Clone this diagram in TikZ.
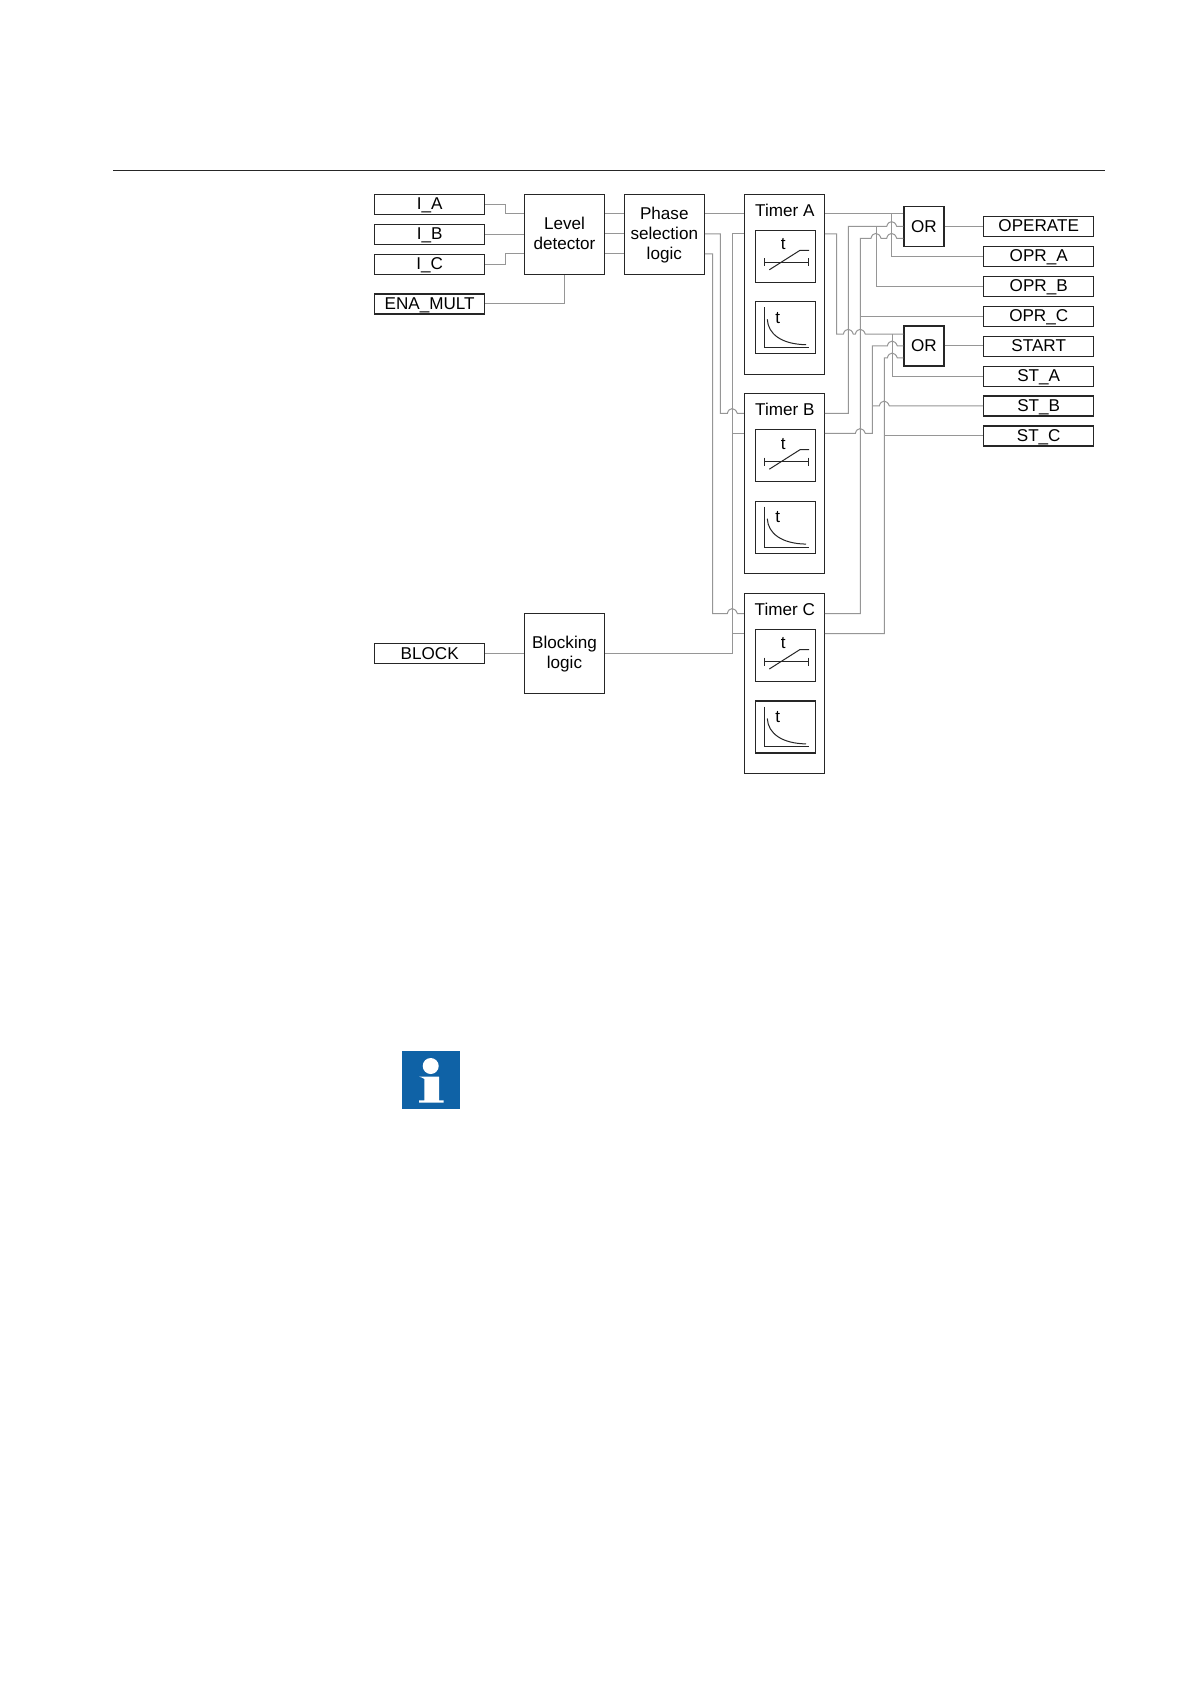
\documentclass[tikz,border=0pt]{standalone}
\usepackage{fontspec}
\setmainfont{Liberation Sans}
\definecolor{wire}{HTML}{969696}
\definecolor{edge}{HTML}{262626}
\definecolor{infoblue}{HTML}{0F62A6}
% a small bridge in a left-to-right wire, at x=#1, y=#2
\newcommand{\hump}[2]{-- ({#1-5},#2) .. controls ({#1-3.5},{#2-6.5}) and ({#1+3},{#2-6.5}) .. ({#1+5},#2)}
\tikzset{
  lab/.style={font=\fontsize{8.55}{10}\selectfont,text=black,inner sep=0pt,align=center},
  box/.style={draw=edge,line width=0.55pt,fill=white,inner sep=0pt,lab},
  iobox/.style={box,minimum width=55pt,minimum height=10pt,text height=6pt,text depth=0.4pt},
  procbox/.style={box,minimum width=40pt,minimum height=40pt},
  orbox/.style={box,minimum width=20pt,minimum height=20pt},
  timerbox/.style={draw=edge,line width=0.55pt,fill=white,minimum width=40pt,minimum height=90pt,inner sep=0pt},
  iconbox/.style={draw=edge,line width=0.55pt,fill=white,minimum width=30.2pt,minimum height=26pt,inner sep=0pt},
  wireline/.style={draw=wire,line width=0.5pt},
  icon/.style={draw=edge,line width=0.5pt},
  iconaxis/.style={draw=edge,line width=0.5pt}
}
% timer block: #1 name, #2 title, #3 top y
\newcommand{\timerblock}[3]{
  \node[timerbox] (#1) at (784.3,{#3+90}) {};
  \node[lab] (#1title) at (784.8,{#3+16}) {#2};
  \node[iconbox] (#1def) at (785.5,{#3+62}) {};
  \node[iconbox] (#1idmt) at (785.5,{#3+133.5}) {};
  \node[lab] (#1t1) at (783.3,{#3+50}) {t};
  \node[lab] (#1t2) at (777.7,{#3+123.5}) {t};
  \draw[iconaxis] (764.3,{#3+68}) -- (808.7,{#3+68});
  \draw[iconaxis] (764.3,{#3+64}) -- (764.3,{#3+72});
  \draw[iconaxis] (808.7,{#3+64}) -- (808.7,{#3+72});
  \draw[icon] (769.3,{#3+75.5}) -- (800,{#3+56}) -- (809,{#3+56});
  \draw[iconaxis] (764,{#3+113}) -- (764,{#3+153.4}) -- (808.7,{#3+153.4});
  \draw[icon] (767.3,{#3+125}) .. controls (768,{#3+140}) and (782,{#3+150}) .. (806,{#3+150.4});
}
\begin{document}
\begin{tikzpicture}[x=0.5pt,y=-0.5pt]
\useasboundingbox (0,0) rectangle (1191,1684);
\fill[white] (0,0) rectangle (1191,1684);
\coordinate (ruleL) at (113,170);
\coordinate (ruleR) at (1105,170);
\draw[edge,line width=0.4pt] (ruleL) -- (ruleR);

% inputs
\node[iobox] (IA) at (429.7,204.3) {I\_A};
\node[iobox] (IB) at (429.7,234.3) {I\_B};
\node[iobox] (IC) at (429.7,264.3) {I\_C};
\node[iobox] (ENA) at (429.7,304) {ENA\_MULT};
\node[iobox] (BLOCK) at (429.7,653.5) {BLOCK};

% processing
\node[procbox] (LD) at (564.5,234.3) {};
\node[lab] (LDtext) at (564.5,233.3) {Level\\detector};
\node[procbox] (PS) at (664.3,234.3) {};
\node[lab] (PStext) at (664.3,235.3) {Phase\\selection\\logic};
\node[procbox] (BL) at (564.5,653.5) {};
\node[lab] (BLtext) at (564.5,654.2) {Blocking\\logic};

% timers
\timerblock{TA}{Timer A}{194.3}
\timerblock{TB}{Timer B}{393.7}
\timerblock{TC}{Timer C}{593.5}

% OR gates
\node[orbox] (ORa) at (924,226.2) {OR};
\node[orbox] (ORb) at (924,346) {OR};

% outputs
\node[iobox] (OPERATE) at (1038.7,226.3) {OPERATE};
\node[iobox] (OPRA) at (1038.7,256.3) {OPR\_A};
\node[iobox] (OPRB) at (1038.7,286.3) {OPR\_B};
\node[iobox] (OPRC) at (1038.7,316.3) {OPR\_C};
\node[iobox] (START) at (1038.7,346.3) {START};
\node[iobox] (STA) at (1038.7,376.3) {ST\_A};
\node[iobox] (STB) at (1038.7,406) {ST\_B};
\node[iobox] (STC) at (1038.7,436) {ST\_C};

% input wires
\draw[wireline] (IA.east) -- (505.3,204.3) -- (505.3,214) -- (LD.west |- 0,214);
\draw[wireline] (IB.east) -- (LD.west |- IB.east);
\draw[wireline] (IC.east) -- (505,264.3) -- (505,254) -- (LD.west |- 0,254);
\draw[wireline] (ENA.east) -| (LD.south);
\draw[wireline] (BLOCK.east) -- (BL.west);

% level detector to phase selection
\draw[wireline] (LD.east |- 0,214) -- (PS.west |- 0,214);
\draw[wireline] (LD.east |- 0,234) -- (PS.west |- 0,234);
\draw[wireline] (LD.east |- 0,254) -- (PS.west |- 0,254);

% phase selection to timers
\draw[wireline] (PS.east |- 0,214) -- (TA.west |- 0,214);
\draw[wireline] (PS.east |- 0,234) -- (720.3,234) -- (720.3,413.5) \hump{732.3}{413.5} -- (TB.west |- 0,413.5);
\draw[wireline] (PS.east |- 0,254) -- (712.7,254) -- (712.7,613.5) \hump{732.3}{613.5} -- (TC.west |- 0,613.5);

% blocking to timers
\draw[wireline] (BL.east) -- (732.3,653.5) -- (732.3,234) -- (TA.west |- 0,234);
\draw[wireline] (732.3,433.5) -- (TB.west |- 0,433.5);
\draw[wireline] (732.3,633.5) -- (TC.west |- 0,633.5);

% timer A
\draw[wireline] (TA.east |- 0,214) -- (ORa.west |- 0,214);
\draw[wireline] (891.7,214) -- (891.7,256.3) -- (OPRA.west);
\draw[wireline] (TA.east |- 0,234) -- (836.7,234) -- (836.7,334.2) \hump{848.3}{334.2} \hump{860.3}{334.2} -- (ORb.west |- 0,334.2);
\draw[wireline] (892.3,334.2) -- (892.3,376.3) -- (STA.west);

% timer B
\draw[wireline] (TB.east |- 0,413.5) -- (848.3,413.5) -- (848.3,226.5) \hump{891.7}{226.5} -- (ORa.west |- 0,226.5);
\draw[wireline] (876,226.5) -- (876,286.3) -- (OPRB.west);
\draw[wireline] (TB.east |- 0,433.5) \hump{860.3}{433.5} -- (872.3,433.5) -- (872.3,346) \hump{892.3}{346} -- (ORb.west |- 0,346);
\draw[wireline] (872.3,406) \hump{884.3}{406} -- (STB.west);

% timer C
\draw[wireline] (TC.east |- 0,613.5) -- (860.3,613.5) -- (860.3,238.3) \hump{876}{238.3} \hump{891.7}{238.3} -- (ORa.west |- 0,238.3);
\draw[wireline] (860.3,316.3) -- (OPRC.west);
\draw[wireline] (TC.east |- 0,633.5) -- (884.3,633.5) -- (884.3,358) \hump{892.3}{358} -- (ORb.west |- 0,358);
\draw[wireline] (884.3,436) -- (STC.west);

% OR outputs
\draw[wireline] (ORa.east) -- (OPERATE.west |- ORa.east);
\draw[wireline] (ORb.east) -- (START.west |- ORb.east);

% information icon
\fill[infoblue] (402.3,1051.3) rectangle (460,1109);
\fill[white] (430.7,1066) circle[radius=8];
\fill[white] (419.3,1076.7) -- (439,1076.7) -- (439,1100.3) -- (443.5,1100.3) -- (443.5,1102.7) -- (419,1102.7) -- (419,1100.3) -- (424.3,1100.3) -- (424.3,1079) .. controls (424.3,1078) and (421,1077.6) .. cycle;
\end{tikzpicture}
\end{document}
